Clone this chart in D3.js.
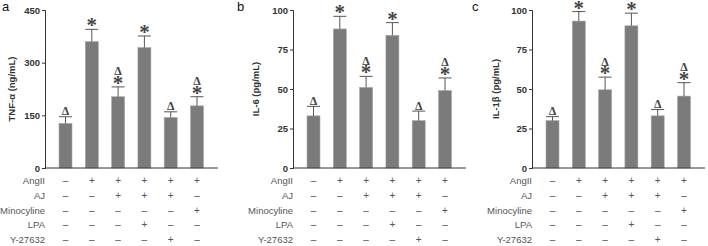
<!DOCTYPE html>
<html>
<head>
<meta charset="utf-8">
<script src="https://cdn.jsdelivr.net/npm/d3@7/dist/d3.min.js"></script>
<style>
  body { margin: 0; background: #fff; }
  svg { display: block; font-family: "Liberation Sans", Arial, sans-serif; }
</style>
</head>
<body>
<div id="chart"></div>
<script>
// six treatment groups, one bar each
const groups = ["g1", "g2", "g3", "g4", "g5", "g6"];

// treatment table under the x axis
const rowLabels = ["AngII", "AJ", "Minocyline", "LPA", "Y-27632"];
const rowSigns = [
  ["-", "+", "+", "+", "+", "+"],
  ["-", "-", "+", "+", "+", "-"],
  ["-", "-", "-", "-", "-", "+"],
  ["-", "-", "-", "+", "-", "-"],
  ["-", "-", "-", "-", "+", "-"]
];

// means and error (SD)
const tnfMean = [127, 360, 203, 343, 144, 177];
const tnfErr  = [19, 35, 28, 33, 16, 26];
const il6Mean = [33, 88, 51, 84, 30, 49];
const il6Err  = [6, 8, 7, 8, 6, 8];
const il1Mean = [30, 93, 49.5, 90, 33, 45.5];
const il1Err  = [2.5, 6, 8, 8, 4, 8.5];

// significance marks: Δ vs AngII, * vs control
const marks = ["Δ", "*", "Δ*", "*", "Δ", "Δ*"];

const yTicksTnf = [0, 150, 300, 450];
const yTicksIl = [0, 25, 50, 75, 100];

const panels = [
  { letter: "a", title: "TNF-α (ng/mL)", mean: tnfMean, err: tnfErr, ticks: yTicksTnf, left: 45, letterX: 2, titleX: 15 },
  { letter: "b", title: "IL-6 (pg/mL)", mean: il6Mean, err: il6Err, ticks: yTicksIl, left: 293, letterX: 237, titleX: 259 },
  { letter: "c", title: "IL-1β (pg/mL)", mean: il1Mean, err: il1Err, ticks: yTicksIl, left: 532, letterX: 472, titleX: 499 }
];

const W = 708, H = 246;
const plotTop = 10, plotBottom = 168, plotW = 173, barW = 13;

const svg = d3.select("#chart").append("svg")
  .attr("width", W)
  .attr("height", H);

const yRow = d3.scalePoint().domain(rowLabels).range([184, 243]);

panels.forEach(function(p) {
  const g = svg.append("g");
  const x = d3.scalePoint().domain(groups).range([p.left + 20.5, p.left + 152]);
  const y = d3.scaleLinear().domain([0, d3.max(p.ticks)]).range([plotBottom, plotTop]);

  // panel letter
  g.append("text")
    .attr("x", p.letterX)
    .attr("y", 11)
    .attr("font-size", 13)
    .attr("fill", "#111")
    .text(p.letter);

  // bars
  g.selectAll("rect.bar")
    .data(groups)
    .enter().append("rect")
    .attr("class", "bar")
    .attr("x", d => x(d) - barW / 2)
    .attr("width", barW)
    .attr("y", (d, i) => y(p.mean[i]))
    .attr("height", (d, i) => plotBottom - y(p.mean[i]))
    .attr("fill", "#7b7b7b")
    .attr("stroke", "#a8a8a8")
    .attr("stroke-width", 0.6);

  // error bars
  const eb = g.selectAll("g.err").data(groups).enter().append("g").attr("class", "err");
  eb.append("line")
    .attr("x1", d => x(d)).attr("x2", d => x(d))
    .attr("y1", (d, i) => y(p.mean[i]))
    .attr("y2", (d, i) => y(p.mean[i] + p.err[i]))
    .attr("stroke", "#555").attr("stroke-width", 1);
  eb.append("line")
    .attr("x1", d => x(d) - barW / 2).attr("x2", d => x(d) + barW / 2)
    .attr("y1", (d, i) => y(p.mean[i] + p.err[i]))
    .attr("y2", (d, i) => y(p.mean[i] + p.err[i]))
    .attr("stroke", "#555").attr("stroke-width", 1);

  // significance marks
  groups.forEach(function(d, i) {
    const yt = y(p.mean[i] + p.err[i]);
    const m = marks[i];
    let cur = yt;
    if (m.indexOf("*") >= 0) {
      g.append("text")
        .attr("x", x(d)).attr("y", cur + 3)
        .attr("text-anchor", "middle")
        .attr("font-family", "Liberation Serif, serif")
        .attr("font-weight", "bold")
        .attr("font-size", 21)
        .attr("fill", "#444")
        .text("*");
      cur -= 10;
    }
    if (m.indexOf("Δ") >= 0) {
      g.append("text")
        .attr("x", x(d)).attr("y", cur - 1.5)
        .attr("text-anchor", "middle")
        .attr("font-family", "Liberation Serif, serif")
        .attr("font-weight", "bold")
        .attr("font-size", 12)
        .attr("fill", "#444")
        .text("Δ");
    }
  });

  // y axis
  const yAxis = d3.axisLeft(y).tickValues(p.ticks).tickSize(3).tickPadding(2);
  const ya = g.append("g")
    .attr("transform", "translate(" + p.left + ",0)")
    .call(yAxis);
  ya.select(".domain").attr("stroke", "#333");
  ya.selectAll(".tick line").attr("stroke", "#333");
  ya.selectAll(".tick text")
    .attr("font-family", "Liberation Sans, Arial, sans-serif")
    .attr("font-size", 9.5)
    .attr("font-weight", "bold")
    .attr("fill", "#333");

  // x axis line
  g.append("line")
    .attr("x1", p.left).attr("x2", p.left + plotW)
    .attr("y1", plotBottom).attr("y2", plotBottom)
    .attr("stroke", "#333").attr("stroke-width", 1);

  // y title
  g.append("text")
    .attr("transform", "translate(" + p.titleX + "," + ((plotTop + plotBottom) / 2) + ") rotate(-90)")
    .attr("text-anchor", "middle")
    .attr("font-size", 9.5)
    .attr("font-weight", "bold")
    .attr("fill", "#333")
    .text(p.title);

  // treatment table
  rowLabels.forEach(function(r, ri) {
    g.append("text")
      .attr("x", p.left).attr("y", yRow(r))
      .attr("text-anchor", "end")
      .attr("font-size", 9.5)
      .attr("fill", "#555")
      .text(r);
    g.selectAll(null)
      .data(groups)
      .enter().append("text")
      .attr("x", d => x(d)).attr("y", yRow(r))
      .attr("text-anchor", "middle")
      .attr("font-size", 10)
      .attr("fill", "#555")
      .text((d, i) => rowSigns[ri][i] == "+" ? "+" : "–");
  });
});
</script>
</body>
</html>
